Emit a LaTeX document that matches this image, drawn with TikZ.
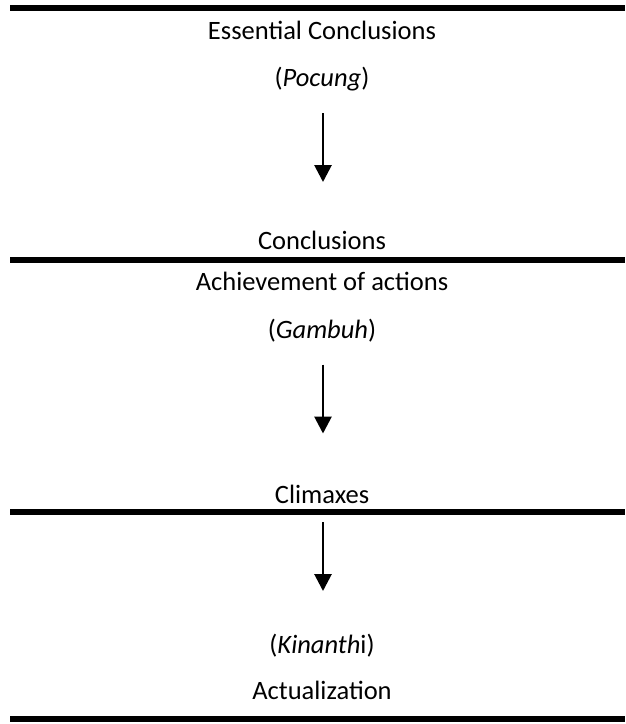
\documentclass[tikz,border=0pt]{standalone}
\usepackage{fontspec}
\setmainfont{Carlito}
\usetikzlibrary{arrows.meta}

\begin{document}
\begin{tikzpicture}[x=1pt,y=-1pt,
    txt/.style={font=\fontsize{26.5}{30}\selectfont, inner sep=0pt, anchor=base},
    rule/.style={line width=6pt},
    down/.style={line width=2.8pt, -{Triangle[width=17pt,length=17pt]}}]
            \useasboundingbox (0,0) rectangle (625,724);
            % rules
            \coordinate (r1l) at (10,8);     \coordinate (r1r) at (625,8);
            \coordinate (r2l) at (10,259.5); \coordinate (r2r) at (625,259.5);
            \coordinate (r3l) at (10,511.5); \coordinate (r3r) at (625,511.5);
            \coordinate (r4l) at (10,719);   \coordinate (r4r) at (625,719);
            \draw[rule] (r1l)--(r1r);
            \draw[rule] (r2l)--(r2r);
            \draw[rule] (r3l)--(r3r);
            \draw[rule] (r4l)--(r4r);
            % first part
            \node[txt] (ess) at (322,39) {Essential Conclusions};
            \node[txt] (poc) at (322,86) {(\textit{Pocung})};
            \coordinate (a1s) at (323,113);
            \coordinate (a1e) at (323,182);
            \draw[down] (a1s)--(a1e);
            \node[txt] (con) at (322,249) {Conclusions};
            % second part
            \node[txt] (ach) at (322,290.5) {Achievement of actions};
            \node[txt] (gam) at (322,338) {(\textit{Gambuh})};
            \coordinate (a2s) at (323,364.5);
            \coordinate (a2e) at (323,433.5);
            \draw[down] (a2s)--(a2e);
            \node[txt] (cli) at (322,503) {Climaxes};
            % third part
            \coordinate (a3s) at (323,522);
            \coordinate (a3e) at (323,591);
            \draw[down] (a3s)--(a3e);
            \node[txt] (kin) at (322,653) {(\textit{Kinanth}i)};
            \node[txt] (act) at (322,699) {Actualization};
        \end{tikzpicture}
\end{document}
